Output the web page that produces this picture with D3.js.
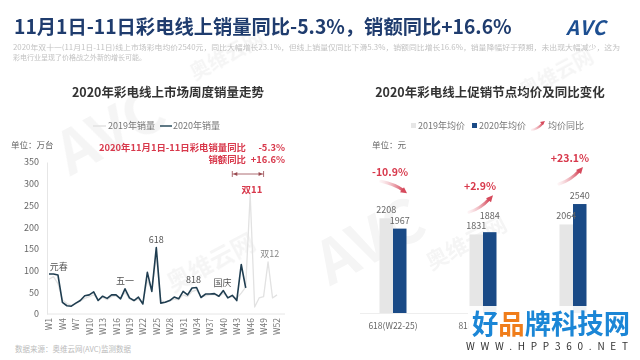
<!DOCTYPE html>
<html>
<head>
<meta charset="utf-8">
<script src="https://cdn.jsdelivr.net/npm/d3@7"></script>
<style>
  body { margin: 0; background: #fff; }
  svg { display: block; }
  text { font-family: "Noto Sans CJK SC", "Noto Sans", sans-serif; }
</style>
</head>
<body>
<svg id="chart" width="640" height="360"></svg>
<script>
// ---- data ----
const weekTicks = ["W1","W4","W7","W10","W13","W16","W19","W22","W25","W28","W31","W34","W37","W40","W43","W46","W49","W52"];
const salesTicks = [0, 50, 100, 150, 200, 250, 300, 350];
// weekly online TV sales, 10k units (W1..W52 for 2019, W1..W45 for 2020)
const sales2019 = [80, 86, 70, 32, 24, 20, 24, 30, 36, 40, 44, 34, 38, 33, 40, 42, 36, 50, 35, 30,
                   34, 26, 78, 55, 135, 30, 28, 30, 34, 33, 44, 40, 52, 55, 40, 42, 44, 45, 40, 48,
                   38, 40, 36, 48, 62, 275, 16, 37, 40, 120, 37, 44];
const sales2020 = [92, 92, 90, 27, 19, 18, 25, 31, 42, 44, 51, 31, 41, 36, 44, 44, 35, 58, 37, 31,
                   39, 23, 96, 52, 153, 25, 27, 31, 39, 35, 52, 44, 60, 61, 38, 46, 46, 47, 41, 54,
                   37, 43, 31, 114, 60];
const festivals = [
  { name: "元春", week: 3.2, year: 2020 },
  { name: "五一", week: 18, year: 2020 },
  { name: "618", week: 25, year: 2020 },
  { name: "818", week: 33.3, year: 2020 },
  { name: "国庆", week: 39.8, year: 2020 },
  { name: "双11", week: 46.4, year: 2019 },
  { name: "双12", week: 50.4, year: 2019 }
];

const promoNodes = ["618(W22-25)", "818(W32-34)", "双11(W45-46)"];
const price2019 = [2208, 1831, 2064];
const price2020 = [1967, 1884, 2540];
const priceYoY = [-10.9, 2.9, 23.1];

const svg = d3.select("#chart");
const red = "#d8394c";

// ---- faint watermarks ----
const wm = svg.append("g").attr("fill", "#000").attr("opacity", 0.04).attr("font-weight", "bold");
[[215, 270, "奥维云网", 24], [470, 250, "奥维云网", 22], [120, 150, "AVC", 60], [380, 260, "AVC", 60],
 [560, 80, "奥维云网", 20], [230, 62, "奥维云网", 20]].forEach(function (w) {
  wm.append("text").attr("transform", "translate(" + w[0] + "," + w[1] + ") rotate(-28)")
    .attr("text-anchor", "middle").attr("font-size", w[3]).text(w[2]);
});

// ---- header ----
svg.append("text")
  .attr("x", 14).attr("y", 34)
  .attr("font-size", 19.3).attr("font-weight", "bold").attr("fill", "#1f3c6e")
  .text("11月1日-11日彩电线上销量同比-5.3%，销额同比+16.6%");

svg.append("text")
  .attr("x", 566).attr("y", 35)
  .attr("font-size", 20).attr("font-weight", "bold").attr("font-style", "italic")
  .attr("fill", "#1d4f91").attr("letter-spacing", 1)
  .text("AVC");

svg.append("text")
  .attr("x", 13).attr("y", 50)
  .attr("font-size", 7).attr("fill", "#c2c2c2")
  .attr("textLength", 607).attr("lengthAdjust", "spacingAndGlyphs")
  .text("2020年双十一(11月1日-11日)线上市场彩电均价2540元，同比大幅增长23.1%，但线上销量仅同比下滑5.3%，销额同比增长16.6%，销量降幅好于预期，未出现大幅减少，这为");
svg.append("text")
  .attr("x", 13).attr("y", 60)
  .attr("font-size", 7).attr("fill", "#c2c2c2")
  .text("彩电行业呈现了价格战之外新的增长可能。");

// ---- left: weekly sales line chart ----
const x = d3.scaleLinear().domain([1, 52]).range([49, 277]);
const y = d3.scaleLinear().domain([0, 350]).range([314, 162]);

svg.append("text")
  .attr("x", 168).attr("y", 97).attr("text-anchor", "middle")
  .attr("font-size", 12.5).attr("font-weight", "bold").attr("fill", "#333")
  .text("2020年彩电线上市场周度销量走势");

// legend
const lg = svg.append("g").attr("font-size", 9).attr("fill", "#777");
lg.append("line").attr("x1", 93).attr("x2", 106).attr("y1", 126).attr("y2", 126)
  .attr("stroke", "#e2e2e2").attr("stroke-width", 1.5);
lg.append("text").attr("x", 108).attr("y", 129).text("2019年销量");
lg.append("line").attr("x1", 160).attr("x2", 172).attr("y1", 126).attr("y2", 126)
  .attr("stroke", "#2a4d5c").attr("stroke-width", 1.5);
lg.append("text").attr("x", 173).attr("y", 129).text("2020年销量");

svg.append("text")
  .attr("x", 11).attr("y", 148)
  .attr("font-size", 8.5).attr("fill", "#666")
  .text("单位：万台");

// y axis
const yAxis = svg.append("g")
  .attr("transform", "translate(47,0)")
  .call(d3.axisLeft(y).tickValues(salesTicks).tickSize(0).tickPadding(8));
yAxis.select(".domain").attr("stroke", "#e6e6e6");
yAxis.selectAll("text").attr("font-size", 9).attr("fill", "#666")
  .style("font-family", "'Noto Sans CJK SC', sans-serif");

// x axis
const xAxis = svg.append("g")
  .attr("transform", "translate(0,314)")
  .call(d3.axisBottom(x)
    .tickValues(weekTicks.map(function (t) { return +t.slice(1); }))
    .tickFormat(function (d) { return "W" + d; })
    .tickSize(0));
xAxis.select(".domain").attr("stroke", "#e6e6e6").attr("d", "M47,0H285");
xAxis.selectAll("text")
  .attr("transform", "rotate(-90)")
  .attr("x", -4).attr("y", 0).attr("dy", "0.35em")
  .style("text-anchor", "end")
  .style("font-family", "'Noto Sans CJK SC', sans-serif")
  .attr("font-size", 8.5).attr("fill", "#777");

const line = d3.line()
  .x(function (d, i) { return x(i + 1); })
  .y(function (d) { return y(d); });

svg.append("path").datum(sales2019)
  .attr("fill", "none").attr("stroke", "#e2e2e2").attr("stroke-width", 1.3)
  .attr("stroke-linejoin", "round").attr("d", line);
svg.append("path").datum(sales2020)
  .attr("fill", "none").attr("stroke", "#1f3d50").attr("stroke-width", 1.6)
  .attr("stroke-linejoin", "round").attr("d", line);

svg.append("g").selectAll("text")
  .data(festivals)
  .enter().append("text")
  .attr("x", function (d) { return x(d.week); })
  .attr("y", function (d) {
    const s = d.year === 2019 ? sales2019 : sales2020;
    return y(s[Math.round(d.week) - 1]) - (d.name === "双11" ? 2 : 5);
  })
  .attr("text-anchor", "middle")
  .attr("font-size", function (d) { return d.name === "双11" ? 9.5 : 9; })
  .attr("font-weight", function (d) { return d.name === "双11" ? "bold" : "normal"; })
  .attr("fill", function (d) { return d.name === "双11" ? red : (d.year === 2019 ? "#888" : "#555"); })
  .text(function (d) { return d.name; });

// red annotation
const ann = svg.append("g").attr("fill", red).attr("font-size", 9.4).attr("font-weight", "bold")
  .attr("text-anchor", "end");
ann.append("text").attr("x", 246).attr("y", 151).text("2020年11月1日-11日彩电销量同比");
ann.append("text").attr("x", 285).attr("y", 151).text("-5.3%");
ann.append("text").attr("x", 246).attr("y", 162.5).text("销额同比");
ann.append("text").attr("x", 285).attr("y", 162.5).text("+16.6%");

// bracket above 双11
const bx0 = x(42), bx1 = x(49), by = 174;
const br = svg.append("g").attr("stroke", "#9a4a50").attr("stroke-width", 0.8).attr("fill", "#9a4a50");
br.append("line").attr("x1", bx0).attr("x2", bx1).attr("y1", by).attr("y2", by);
br.append("line").attr("x1", bx0).attr("x2", bx0).attr("y1", by - 3).attr("y2", by + 3);
br.append("line").attr("x1", bx1).attr("x2", bx1).attr("y1", by - 3).attr("y2", by + 3);
br.append("path").attr("stroke", "none")
  .attr("d", "M" + (bx0 + 1) + "," + by + "l4,-2v4z M" + (bx1 - 1) + "," + by + "l-4,-2v4z");

// ---- right: promo average price bars ----
const x0 = d3.scaleBand().domain(promoNodes).range([348, 618]).paddingInner(0.7).paddingOuter(0.35);
const x1 = d3.scaleBand().domain(["2019", "2020"]).range([0, x0.bandwidth()]);
const yp = d3.scaleLinear().domain([0, 3000]).range([313, 184.3]);

svg.append("text")
  .attr("x", 490).attr("y", 97).attr("text-anchor", "middle")
  .attr("font-size", 12.5).attr("font-weight", "bold").attr("fill", "#333")
  .text("2020年彩电线上促销节点均价及同比变化");

const defs = svg.append("defs");
const grad = defs.append("linearGradient").attr("id", "swoosh")
  .attr("x1", "0%").attr("x2", "100%").attr("y1", "0%").attr("y2", "0%");
grad.append("stop").attr("offset", "0%").attr("stop-color", "#f6d4d9").attr("stop-opacity", 0.3);
grad.append("stop").attr("offset", "100%").attr("stop-color", "#d64a5c");
defs.append("clipPath").attr("id", "siteclip")
  .append("rect").attr("x", 0).attr("y", 0).attr("width", 469).attr("height", 360);

const rl = svg.append("g").attr("font-size", 9).attr("fill", "#777");
rl.append("rect").attr("x", 411).attr("y", 123).attr("width", 5).attr("height", 5).attr("fill", "#e6e6e6");
rl.append("text").attr("x", 418).attr("y", 129).text("2019年均价");
rl.append("rect").attr("x", 472).attr("y", 123).attr("width", 5).attr("height", 5).attr("fill", "#1a4a86");
rl.append("text").attr("x", 479).attr("y", 129).text("2020年均价");
rl.append("path").attr("d", "M531,130 Q538,129 543,123").attr("fill", "none")
  .attr("stroke", "url(#swoosh)").attr("stroke-width", 2);
rl.append("path").attr("d", "M545,121 l-5,1 l3,3 z").attr("fill", "#d64a5c");
rl.append("text").attr("x", 548).attr("y", 129).text("均价同比");

svg.append("text")
  .attr("x", 372).attr("y", 148)
  .attr("font-size", 8.5).attr("fill", "#666")
  .text("单位：元");

svg.append("line").attr("x1", 360).attr("x2", 612).attr("y1", 313.5).attr("y2", 313.5)
  .attr("stroke", "#eeeeee");

const groups = svg.append("g").selectAll("g")
  .data(promoNodes.map(function (n, i) {
    return { node: n, v2019: price2019[i], v2020: price2020[i], yoy: priceYoY[i] };
  }))
  .enter().append("g")
  .attr("transform", function (d) { return "translate(" + x0(d.node) + ",0)"; });

groups.append("rect")
  .attr("x", x1("2019")).attr("width", x1.bandwidth())
  .attr("y", function (d) { return yp(d.v2019); })
  .attr("height", function (d) { return yp(0) - yp(d.v2019); })
  .attr("fill", "#e6e6e6");
groups.append("rect")
  .attr("x", x1("2020")).attr("width", x1.bandwidth())
  .attr("y", function (d) { return yp(d.v2020); })
  .attr("height", function (d) { return yp(0) - yp(d.v2020); })
  .attr("fill", "#1a4a86");

groups.append("text")
  .attr("x", x1("2019") + x1.bandwidth() / 2)
  .attr("y", function (d) { return yp(d.v2019) - 5; })
  .attr("text-anchor", "middle").attr("font-size", 9).attr("fill", "#666")
  .text(function (d) { return d.v2019; });
groups.append("text")
  .attr("x", x1("2020") + x1.bandwidth() / 2)
  .attr("y", function (d) {
    // lift the label when it would collide with the 2019 one
    const lift = Math.abs(yp(d.v2019) - yp(d.v2020)) < 8 ? 13 : 5;
    return yp(d.v2020) - lift;
  })
  .attr("text-anchor", "middle").attr("font-size", 9).attr("fill", "#666")
  .text(function (d) { return d.v2020; });

// category labels, partly hidden under the site watermark
svg.append("g").attr("clip-path", "url(#siteclip)")
  .selectAll("text")
  .data(promoNodes)
  .enter().append("text")
  .attr("x", function (d) { return x0(d) + x0.bandwidth() / 2; })
  .attr("y", 329)
  .attr("text-anchor", "middle").attr("font-size", 8.5).attr("fill", "#666")
  .text(function (d) { return d; });

// yoy labels and swoosh arrows
groups.each(function (d) {
  const g = d3.select(this);
  const cx = x0.bandwidth() / 2;
  const base = yp(Math.max(d.v2019, d.v2020)) - 42;
  g.append("text")
    .attr("x", cx - 3).attr("y", base)
    .attr("text-anchor", "middle").attr("font-size", 10.5).attr("font-weight", "bold").attr("fill", red)
    .text((d.yoy > 0 ? "+" : "") + d.yoy.toFixed(1) + "%");
  let p, head;
  if (d.yoy < 0) {
    p = "M" + (cx - 12) + "," + (base + 5) + " Q" + (cx + 2) + "," + (base + 8) + " " + (cx + 10) + "," + (base + 14);
    head = "M" + (cx + 14) + "," + (base + 17) + " l-7,-1 l4,-5 z";
  } else {
    p = "M" + (cx - 14) + "," + (base + 22) + " Q" + (cx - 2) + "," + (base + 18) + " " + (cx + 6) + "," + (base + 9);
    head = "M" + (cx + 10) + "," + (base + 5) + " l-2,7 l-5,-4 z";
  }
  g.append("path").attr("d", p).attr("fill", "none")
    .attr("stroke", "url(#swoosh)").attr("stroke-width", 3).attr("stroke-linecap", "round");
  g.append("path").attr("d", head).attr("fill", "#d64a5c");
});

// footer
svg.append("text")
  .attr("x", 15).attr("y", 352)
  .attr("font-size", 7.5).attr("fill", "#bbb")
  .text("数据来源：奥维云网(AVC)监测数据");

// site watermark
svg.append("rect").attr("x", 468).attr("y", 306).attr("width", 172).attr("height", 54)
  .attr("fill", "#fff").attr("opacity", 0.92);
const site = svg.append("text").attr("x", 472).attr("y", 334)
  .attr("font-size", 27).attr("font-weight", "bold")
  .attr("textLength", 158).attr("lengthAdjust", "spacingAndGlyphs");
site.append("tspan").attr("fill", "#1b86d6").text("好");
site.append("tspan").attr("fill", "#f07d1a").text("品");
site.append("tspan").attr("fill", "#1b86d6").text("牌科技网");
svg.append("text").attr("x", 466).attr("y", 350)
  .attr("font-size", 10).attr("fill", "#333")
  .attr("textLength", 162).attr("lengthAdjust", "spacing")
  .text("WWW.HPP360.NET");
</script>
</body>
</html>
